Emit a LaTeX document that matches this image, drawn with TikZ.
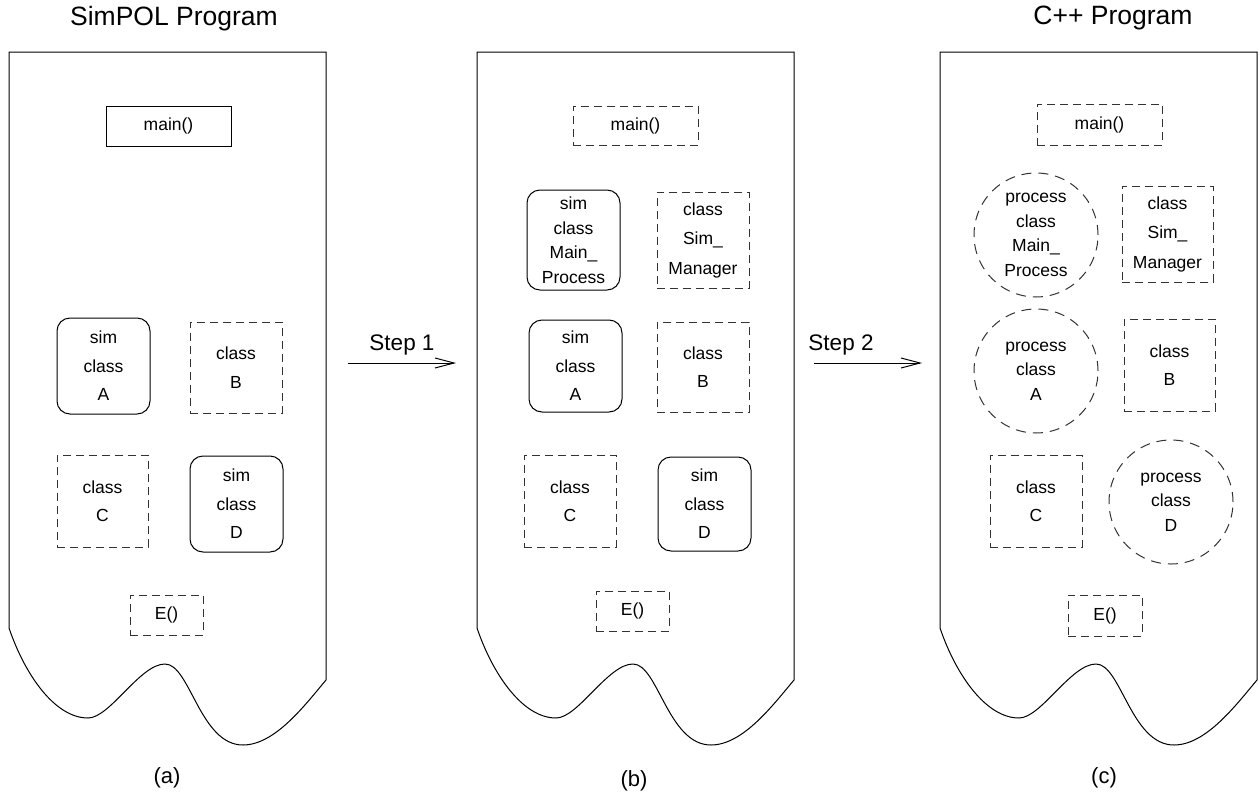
\documentclass[tikz,border=0pt]{standalone}
\usepackage{fontspec}
\setmainfont{Liberation Sans}
\usetikzlibrary{arrows.meta}

\tikzset{
  every node/.style={inner sep=0pt, outer sep=0pt, align=center},
  boxtext/.style={font=\fontsize{17.5}{28.5}\selectfont},
  tighttext/.style={font=\fontsize{17.5}{24.5}\selectfont},
  solidbox/.style={draw=black, line width=1pt, boxtext},
  dashbox/.style={draw=black!80, line width=1pt, dash pattern=on 8pt off 5pt, boxtext},
  simbox/.style={draw=black, line width=1pt, rounded corners=13pt, boxtext},
  proccircle/.style={circle, draw=black!80, line width=1pt, dash pattern=on 10pt off 7pt,
    minimum size=124pt, font=\fontsize{17.5}{24.5}\selectfont},
  heading/.style={font=\fontsize{26.5}{30}\selectfont},
  steplabel/.style={font=\fontsize{22.5}{26}\selectfont},
  partlabel/.style={font=\fontsize{22}{26}\selectfont},
  steparrow/.style={line width=1pt, -{Straight Barb[length=19pt,width=10pt]}},
  sheet/.pic={
    \draw[line width=1pt]
      (317,680) -- (317,52) -- (0,52) -- (0,628)
      .. controls (16,675) and (46,718) .. (79,718)
      .. controls (101,718) and (131,664) .. (156,664)
      .. controls (181,664) and (191,745) .. (234,745)
      .. controls (266,745) and (296,705) .. (317,680);
  }
}

\begin{document}
\begin{tikzpicture}[x=1pt, y=-1pt]
\useasboundingbox (0,0) rectangle (1258,811);

% three program sheets with torn bottoms
\pic at (9,0) {sheet};
\pic at (477,0) {sheet};
\pic at (940,0) {sheet};

% headings
\node[heading] (titleA) at (174,19) {SimPOL Program};
\node[heading] (titleC) at (1113,18) {C++ Program};

% (a) SimPOL program
\node[solidbox, minimum width=125pt, minimum height=40pt] (amain) at (168.5,126) {main()};
\node[simbox, minimum width=93pt, minimum height=96pt] (aA) at (103.5,366) {sim\\class\\A};
\node[dashbox, minimum width=92pt, minimum height=91pt] (aB) at (236,367.5) {class\\B};
\node[dashbox, minimum width=91pt, minimum height=92pt] (aC) at (102.5,501) {class\\C};
\node[simbox, minimum width=93pt, minimum height=96pt] (aD) at (236.5,504) {sim\\class\\D};
\node[dashbox, minimum width=73pt, minimum height=40pt] (aE) at (166.5,615) {E()};

% (b) after step 1
\node[dashbox, minimum width=125pt, minimum height=39pt] (bmain) at (635.5,125.5) {main()};
\node[simbox, tighttext, minimum width=93pt, minimum height=100pt] (bMP) at (573.5,240) {sim\\class\\Main\_\\Process};
\node[dashbox, font=\fontsize{17.5}{29.5}\selectfont, minimum width=92pt, minimum height=96pt] (bSM) at (703,240) {class\\Sim\_\\Manager};
\node[simbox, minimum width=93pt, minimum height=92pt] (bA) at (575.5,366) {sim\\class\\A};
\node[dashbox, minimum width=92pt, minimum height=90pt] (bB) at (703,367) {class\\B};
\node[dashbox, minimum width=92pt, minimum height=92pt] (bC) at (570,501) {class\\C};
\node[simbox, minimum width=93pt, minimum height=94pt] (bD) at (704.5,504) {sim\\class\\D};
\node[dashbox, minimum width=73pt, minimum height=40pt] (bE) at (632.5,611) {E()};

% (c) C++ program after step 2
\node[dashbox, minimum width=125pt, minimum height=41pt] (cmain) at (1099.5,124.5) {main()};
\node[proccircle] (cMP) at (1036,235) {process\\class\\Main\_\\Process};
\node[dashbox, font=\fontsize{17.5}{29.5}\selectfont, minimum width=91pt, minimum height=96pt] (cSM) at (1167.5,234) {class\\Sim\_\\Manager};
\node[proccircle] (cA) at (1036,371) {process\\class\\A};
\node[dashbox, minimum width=91pt, minimum height=92pt] (cB) at (1169.5,365) {class\\B};
\node[dashbox, minimum width=92pt, minimum height=92pt] (cC) at (1036,501) {class\\C};
\node[proccircle] (cD) at (1171,502) {process\\class\\D};
\node[dashbox, minimum width=74pt, minimum height=41pt] (cE) at (1105,615.5) {E()};

% transformation steps
\coordinate (s1from) at (348,363);
\coordinate (s1to) at (456,363);
\coordinate (s2from) at (814,363);
\coordinate (s2to) at (922,363);
\draw[steparrow] (s1from) -- (s1to);
\draw[steparrow] (s2from) -- (s2to);
\node[steplabel] (step1) at (402,345) {Step 1};
\node[steplabel] (step2) at (841,345) {Step 2};

% sub-figure labels
\node[partlabel] (labA) at (167,778) {(a)};
\node[partlabel] (labB) at (634,781) {(b)};
\node[partlabel] (labC) at (1104,778) {(c)};
\end{tikzpicture}
\end{document}
